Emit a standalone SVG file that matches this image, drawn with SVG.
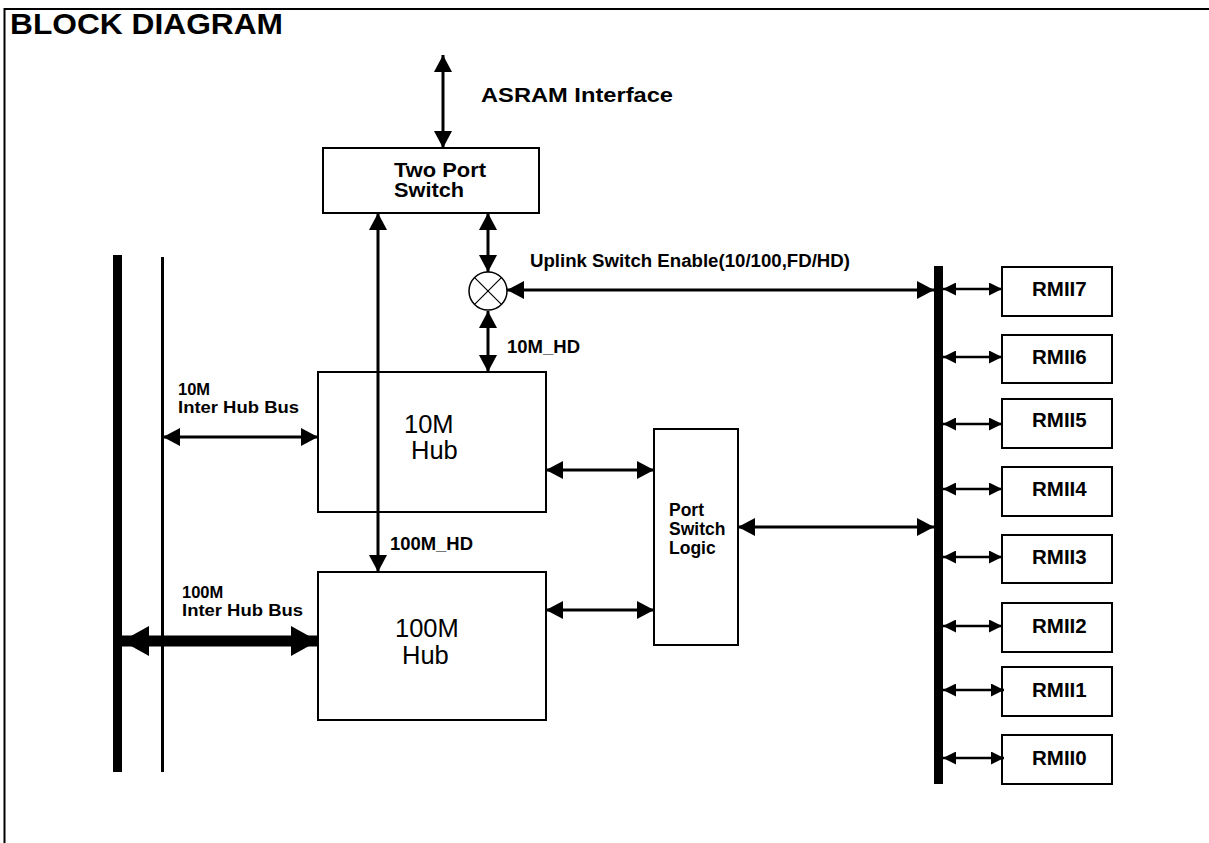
<svg xmlns="http://www.w3.org/2000/svg" width="1209" height="843" viewBox="0 0 1209 843">
<style>
.box{fill:#fff;stroke:#000;stroke-width:2}
.b{font-family:"Liberation Sans",Arial,sans-serif;font-weight:bold;fill:#000}
.r{font-family:"Liberation Sans",Arial,sans-serif;fill:#000}
.c{fill:none;stroke:#000;stroke-width:3}
.cs{fill:none;stroke:#000;stroke-width:2.5}
.ct{fill:none;stroke:#000;stroke-width:11}
</style>
<defs>
<marker id="ah" markerUnits="userSpaceOnUse" markerWidth="17" markerHeight="18" refX="17" refY="9" orient="auto-start-reverse"><path d="M0,0 L17,9 L0,18 z" fill="#000"/></marker>
<marker id="as" markerUnits="userSpaceOnUse" markerWidth="13" markerHeight="13" refX="13" refY="6.5" orient="auto-start-reverse"><path d="M0,0 L13,6.5 L0,13 z" fill="#000"/></marker>
<marker id="ab" markerUnits="userSpaceOnUse" markerWidth="27" markerHeight="30" refX="27" refY="15" orient="auto-start-reverse"><path d="M0,0 L27,15 L0,30 z" fill="#000"/></marker>
</defs>
<rect width="1209" height="843" fill="#fff"/>
<g id="frame">
<path d="M4.5,843 V9 H1209" fill="none" stroke="#000" stroke-width="2"/>
<text class="b" x="10" y="34" font-size="29.5" textLength="273" lengthAdjust="spacingAndGlyphs">BLOCK DIAGRAM</text>
</g>
<g id="buses">
<rect x="113" y="255" width="9" height="517" fill="#000"/>
<line x1="162.5" y1="257" x2="162.5" y2="772" stroke="#000" stroke-width="3"/>
<rect x="934" y="266" width="9" height="518" fill="#000"/>
</g>
<g id="two-port-switch">
<rect class="box" x="323" y="148" width="216" height="65"/>
<text class="b" font-size="19.5"><tspan x="394" y="177" textLength="92" lengthAdjust="spacingAndGlyphs">Two Port</tspan><tspan x="394" y="197" textLength="70" lengthAdjust="spacingAndGlyphs">Switch</tspan></text>
</g>
<g id="mixer">
<circle cx="488" cy="291" r="19" fill="#fff" stroke="#000" stroke-width="1.5"/>
<path d="M474.6,277.6 L501.4,304.4 M501.4,277.6 L474.6,304.4" stroke="#000" stroke-width="1.2"/>
</g>
<g id="hub-10m">
<rect class="box" x="318" y="372" width="228" height="140"/>
<text class="r" font-size="25.5"><tspan x="404" y="433">10M</tspan><tspan x="411" y="459">Hub</tspan></text>
</g>
<g id="hub-100m">
<rect class="box" x="318" y="572" width="228" height="148"/>
<text class="r" font-size="25.5"><tspan x="395" y="637">100M</tspan><tspan x="402" y="664">Hub</tspan></text>
</g>
<g id="port-switch-logic">
<rect class="box" x="654" y="429" width="84" height="216"/>
<text class="b" font-size="17.5"><tspan x="669" y="516">Port</tspan><tspan x="669" y="534.5">Switch</tspan><tspan x="669" y="553.5">Logic</tspan></text>
</g>
<g id="rmii7"><rect class="box" x="1002" y="267" width="110" height="49"/><text class="b" x="1032" y="296" font-size="20.5">RMII7</text></g>
<g id="rmii6"><rect class="box" x="1002" y="335" width="110" height="48"/><text class="b" x="1032" y="363.5" font-size="20.5">RMII6</text></g>
<g id="rmii5"><rect class="box" x="1002" y="399" width="110" height="49"/><text class="b" x="1032" y="427" font-size="20.5">RMII5</text></g>
<g id="rmii4"><rect class="box" x="1002" y="467" width="110" height="49"/><text class="b" x="1032" y="496" font-size="20.5">RMII4</text></g>
<g id="rmii3"><rect class="box" x="1002" y="535" width="110" height="48"/><text class="b" x="1032" y="564" font-size="20.5">RMII3</text></g>
<g id="rmii2"><rect class="box" x="1002" y="603" width="110" height="49"/><text class="b" x="1032" y="632.5" font-size="20.5">RMII2</text></g>
<g id="rmii1"><rect class="box" x="1002" y="667" width="110" height="49"/><text class="b" x="1032" y="697" font-size="20.5">RMII1</text></g>
<g id="rmii0"><rect class="box" x="1002" y="735" width="110" height="49"/><text class="b" x="1032" y="765" font-size="20.5">RMII0</text></g>
<g id="connectors">
<path class="c" d="M443,55 V148" marker-start="url(#ah)" marker-end="url(#ah)"/>
<path class="c" d="M488,213 V272" marker-start="url(#ah)" marker-end="url(#ah)"/>
<path class="c" d="M488,311 V372" marker-start="url(#ah)" marker-end="url(#ah)"/>
<path class="c" d="M378,213 V572" marker-start="url(#ah)" marker-end="url(#ah)"/>
<path class="c" d="M507,290 H934" marker-start="url(#ah)" marker-end="url(#ah)"/>
<path class="c" d="M163,437 H318" marker-start="url(#ah)" marker-end="url(#ah)"/>
<path class="ct" d="M122,641 H318" marker-start="url(#ab)" marker-end="url(#ab)"/>
<path class="c" d="M546,470 H654" marker-start="url(#ah)" marker-end="url(#ah)"/>
<path class="c" d="M546,610 H654" marker-start="url(#ah)" marker-end="url(#ah)"/>
<path class="c" d="M738,527 H934" marker-start="url(#ah)" marker-end="url(#ah)"/>
<path class="cs" d="M943,289 H1002" marker-start="url(#as)" marker-end="url(#as)"/>
<path class="cs" d="M943,357 H1002" marker-start="url(#as)" marker-end="url(#as)"/>
<path class="cs" d="M943,424 H1002" marker-start="url(#as)" marker-end="url(#as)"/>
<path class="cs" d="M943,489 H1002" marker-start="url(#as)" marker-end="url(#as)"/>
<path class="cs" d="M943,557 H1002" marker-start="url(#as)" marker-end="url(#as)"/>
<path class="cs" d="M943,626 H1002" marker-start="url(#as)" marker-end="url(#as)"/>
<path class="cs" d="M943,690 H1004" marker-start="url(#as)" marker-end="url(#as)"/>
<path class="cs" d="M943,758 H1004" marker-start="url(#as)" marker-end="url(#as)"/>
</g>
<g id="labels">
<text class="b" x="481" y="102" font-size="21" textLength="192" lengthAdjust="spacingAndGlyphs">ASRAM Interface</text>
<text class="b" x="530" y="267" font-size="18" textLength="320" lengthAdjust="spacingAndGlyphs">Uplink Switch Enable(10/100,FD/HD)</text>
<text class="b" x="507" y="353" font-size="18" textLength="73" lengthAdjust="spacingAndGlyphs">10M_HD</text>
<text class="b" x="390" y="550" font-size="18" textLength="83" lengthAdjust="spacingAndGlyphs">100M_HD</text>
<text class="b" font-size="16.5"><tspan x="178" y="395">10M</tspan><tspan x="178" y="413" textLength="121" lengthAdjust="spacingAndGlyphs">Inter Hub Bus</tspan></text>
<text class="b" font-size="16.5"><tspan x="182" y="598">100M</tspan><tspan x="182" y="616" textLength="121" lengthAdjust="spacingAndGlyphs">Inter Hub Bus</tspan></text>
</g>
</svg>
